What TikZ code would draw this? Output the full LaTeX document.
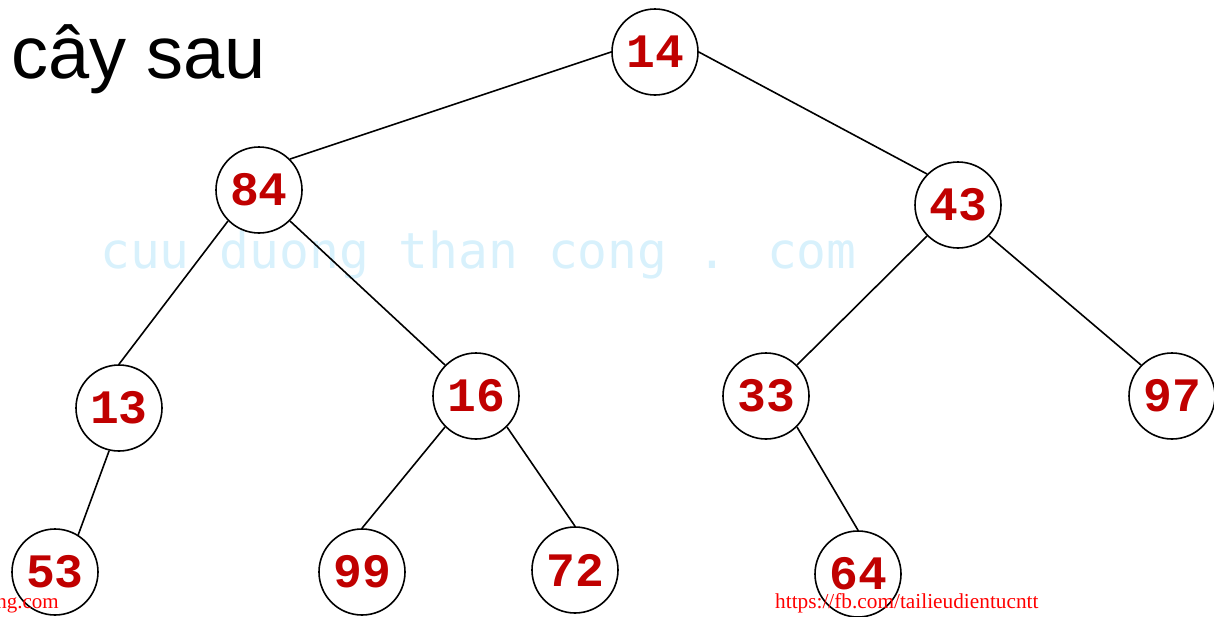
\documentclass[tikz,border=0pt]{standalone}
\usepackage{fontspec}
\setmainfont{Liberation Serif}
\newfontfamily\numfont{Liberation Mono}
\newfontfamily\headfont{Liberation Sans}
\newfontfamily\wmfont{DejaVu Sans Mono}
\definecolor{numred}{HTML}{C00000}
\definecolor{wmblue}{HTML}{D8F1FC}
\definecolor{linkred}{HTML}{FF0000}
\begin{document}
\begin{tikzpicture}[x=1pt,y=-1pt,
  tnode/.style={circle,draw=black,line width=1.6pt,fill=white,minimum size=86pt,inner sep=0pt,
    font=\numfont\bfseries\fontsize{48}{48}\selectfont,text=numred},
  tedge/.style={line width=1.6pt,black}]
\useasboundingbox (0,0) rectangle (1214,616);
\node[anchor=base west,inner sep=0pt,font=\wmfont\fontsize{49.6}{49.6}\selectfont,text=wmblue] (wm) at (100,268) {cuu duong than cong . com};
\node[anchor=base west,inner sep=0pt,font=\headfont\fontsize{74}{74}\selectfont] (title) at (11,78) {cây sau};
\node[tnode] (n14) at (655,52) {14};
\node[tnode] (n84) at (259,190) {84};
\node[tnode] (n43) at (958,205) {43};
\node[tnode] (n13) at (119,408) {13};
\node[tnode] (n16) at (476,396) {16};
\node[tnode] (n33) at (766,396) {33};
\node[tnode] (n97) at (1172,396) {97};
\node[tnode] (n53) at (55,572) {53};
\node[tnode] (n99) at (362,572) {99};
\node[tnode] (n72) at (575,570) {72};
\node[tnode] (n64) at (858,574) {64};
\draw[tedge] (n14.west) -- (n84.north east);
\draw[tedge] (n14.east) -- (n43.north west);
\draw[tedge] (n84.south west) -- (n13.north);
\draw[tedge] (n84.south east) -- (n16.north west);
\draw[tedge] (n43.south west) -- (n33.north east);
\draw[tedge] (n43.south east) -- (n97.north west);
\draw[tedge] (n13.-103) -- (n53.58);
\draw[tedge] (n16.south west) -- (n99.north);
\draw[tedge] (n16.south east) -- (n72.north);
\draw[tedge] (n33.south east) -- (n64.north);
\node[anchor=base east,inner sep=0pt,font=\fontsize{21}{21}\selectfont,text=linkred] (lnk1) at (59,608) {ng.com};
\node[anchor=base west,inner sep=0pt,font=\fontsize{21.3}{21.3}\selectfont,text=linkred] (lnk2) at (775,608) {https://fb.com/tailieudientucntt};
\end{tikzpicture}
\end{document}
